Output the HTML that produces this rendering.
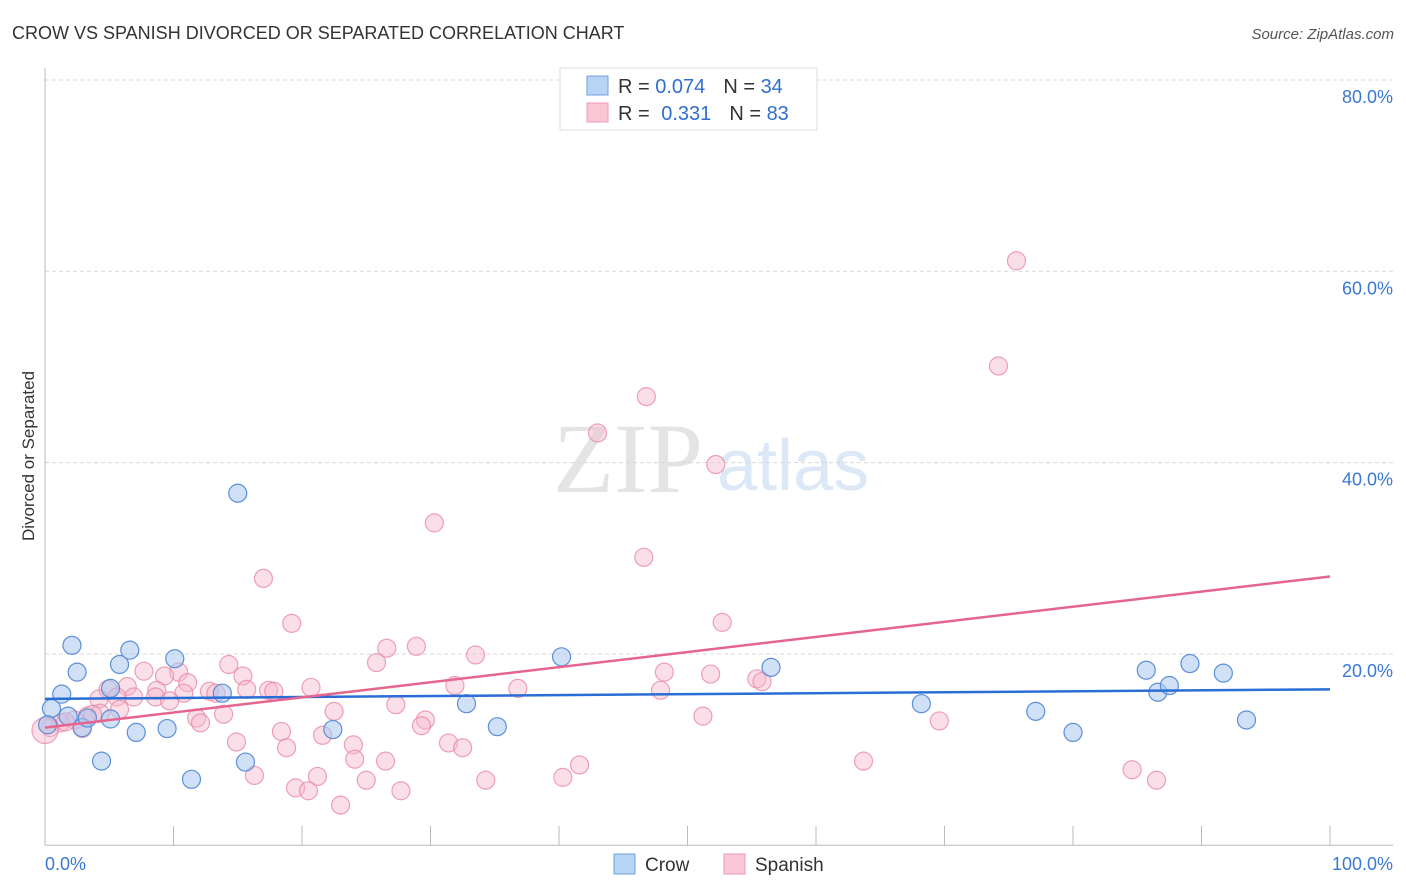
<!DOCTYPE html>
<html><head><meta charset="utf-8"><style>
body{margin:0;background:#fff;font-family:"Liberation Sans",sans-serif;}
svg{display:block}
</style></head><body>
<svg id="chart" width="1406" height="892" font-family="Liberation Sans, sans-serif">
<text x="12" y="39" font-size="18" fill="#333">CROW VS SPANISH DIVORCED OR SEPARATED CORRELATION CHART</text>
<text x="1394" y="39" font-size="15" fill="#555" font-style="italic" text-anchor="end">Source: ZipAtlas.com</text>
<g>
<text x="553" y="492" font-family="Liberation Serif, serif" font-size="100" fill="#e4e4e4">ZIP</text>
<text x="717" y="490" font-size="72" fill="#dce8f6">atlas</text>
</g>
<g id="grid"></g>
<g id="axes"></g>
<text x="34" y="456" font-size="17" fill="#333" text-anchor="middle" transform="rotate(-90 34 456)">Divorced or Separated</text>
<g id="marks"></g>
<g>
<rect x="560" y="68" width="257" height="62" fill="#fff" stroke="#ddd"/>
<rect x="587" y="76" width="21" height="19" fill="#b8d4f5" stroke="#6fa0e0"/>
<rect x="587" y="103" width="21" height="19" fill="#f9c6d6" stroke="#ee9ab5"/>
<text x="618" y="93" font-size="20" fill="#333">R = <tspan fill="#2f6fd0">0.074</tspan><tspan dx="18">N = </tspan><tspan fill="#2f6fd0">34</tspan></text>
<text x="618" y="120" font-size="20" fill="#333">R = <tspan dx="6" fill="#2f6fd0">0.331</tspan><tspan dx="18">N = </tspan><tspan fill="#2f6fd0">83</tspan></text>
</g>
<g>
<rect x="614" y="854" width="21" height="20" fill="#b8d4f5" stroke="#6fa0e0"/>
<text x="645" y="871" font-size="19" fill="#333">Crow</text>
<rect x="724" y="854" width="21" height="20" fill="#f9c6d6" stroke="#ee9ab5"/>
<text x="755" y="871" font-size="19" fill="#333">Spanish</text>
</g>
</svg>
<script>
const yTicks=[20,40,60,80];
const yTickLabels=["20.0%","40.0%","60.0%","80.0%"];
const xTicks=[0,10,20,30,40,50,60,70,80,90,100];
const crowX=[0.5,1.3,1.8,2.1,2.5,2.9,3.3,4.4,5.1,5.1,5.8,6.6,7.1,9.5,10.1,11.4,13.8,15.0,15.6,22.4,32.8,35.2,40.2,56.5,68.2,77.1,80.0,85.7,86.6,87.5,89.1,91.7,93.5,0.2];
const crowY=[14.3,15.8,13.5,20.9,18.1,12.3,13.3,8.8,16.4,13.2,18.9,20.4,11.8,12.2,19.5,6.9,15.9,36.8,8.7,12.1,14.8,12.4,19.7,18.6,14.8,14.0,11.8,18.3,16.0,16.7,19.0,18.0,13.1,12.6];
const spanX=[75.6,74.2,46.8,43.0,52.2,30.3,46.6,17.0,19.2,52.7,28.9,26.6,33.5,25.8,14.3,7.7,10.4,48.2,51.8,9.3,15.4,11.1,55.4,55.8,31.9,20.7,36.8,47.9,4.9,6.4,8.7,12.8,15.7,17.4,17.8,10.8,4.2,5.6,6.9,8.6,9.7,13.3,27.3,22.5,13.9,11.8,12.1,4.3,3.3,2.3,1.2,0.4,2.9,51.2,69.6,29.6,29.3,18.4,21.6,14.9,31.4,32.5,24.0,18.8,24.1,26.5,63.7,16.3,21.2,25.0,34.3,40.3,41.6,84.6,86.5,19.5,20.5,27.7,23.0,5.8,1.6,3.7,0.0];
const spanY=[61.1,50.1,46.9,43.1,39.8,33.7,30.1,27.9,23.2,23.3,20.8,20.6,19.9,19.1,18.9,18.2,18.1,18.1,17.9,17.7,17.7,17.0,17.4,17.1,16.7,16.5,16.4,16.2,16.3,16.6,16.2,16.1,16.3,16.2,16.1,15.9,15.3,15.5,15.5,15.5,15.1,15.9,14.7,14.0,13.7,13.3,12.8,13.8,13.5,13.1,12.8,12.3,12.2,13.5,13.0,13.1,12.5,11.9,11.5,10.8,10.7,10.2,10.5,10.2,9.0,8.8,8.8,7.3,7.2,6.8,6.8,7.1,8.4,7.9,6.8,6.0,5.7,5.7,4.2,14.2,12.9,13.7,12.0];
const crowTrend=[15.3,16.3];
const spanTrend=[12.3,28.1];
const NS="http://www.w3.org/2000/svg";
const X0=45,X1=1330,Y0=845.3,PPY=9.567;
function sx(v){return X0+(X1-X0)*v/100;}
function sy(v){return Y0-v*PPY;}
function mk(tag,attrs,parent){const e=document.createElementNS(NS,tag);for(const k in attrs)e.setAttribute(k,attrs[k]);parent.appendChild(e);return e;}
const grid=document.getElementById('grid'),axes=document.getElementById('axes'),marks=document.getElementById('marks');
yTicks.forEach((t,i)=>{
 const l=mk('line',{x1:45,x2:1393,y1:sy(t),y2:sy(t),stroke:'#d8d8d8','stroke-dasharray':'4 3'},grid);
 
 
 const tx=mk('text',{x:1393,y:sy(t)+23,'font-size':18,fill:'#3a78d4','text-anchor':'end'},axes);
 tx.textContent=yTickLabels[i];
 
 
});
const ax=mk('line',{x1:45,x2:1393,y1:Y0,y2:Y0,stroke:'#bbb'},axes);


const ay=mk('line',{x1:45,x2:45,y1:68,y2:Y0,stroke:'#bbb'},axes);


xTicks.forEach(t=>{
 const l=mk('line',{x1:sx(t),x2:sx(t),y1:826,y2:Y0,stroke:'#bbb'},axes);
 
 
});
const xl0=mk('text',{x:45,y:870,'font-size':18,fill:'#3a78d4'},axes);xl0.textContent='0.0%';


const xl1=mk('text',{x:1393,y:870,'font-size':18,fill:'#3a78d4','text-anchor':'end'},axes);xl1.textContent='100.0%';


spanX.forEach((v,i)=>{
 const c=mk('circle',{cx:sx(v),cy:sy(spanY[i]),r:(i==spanX.length-1?13:9),fill:'#f6b8cb','fill-opacity':0.45,stroke:'#e88aa8','stroke-opacity':0.8,'stroke-width':1.2},marks);
 
 
});
crowX.forEach((v,i)=>{
 const c=mk('circle',{cx:sx(v),cy:sy(crowY[i]),r:9,fill:'#a9c8f0','fill-opacity':0.55,stroke:'#5b8fd9','stroke-width':1.2},marks);
 
 
});
const lb=mk('line',{x1:sx(0),x2:sx(100),y1:sy(crowTrend[0]),y2:sy(crowTrend[1]),stroke:'#2a6dd6','stroke-width':2.5},marks);


const lp=mk('line',{x1:sx(0),x2:sx(100),y1:sy(spanTrend[0]),y2:sy(spanTrend[1]),stroke:'#e6658f','stroke-width':2.5},marks);


</script>
</body></html>
